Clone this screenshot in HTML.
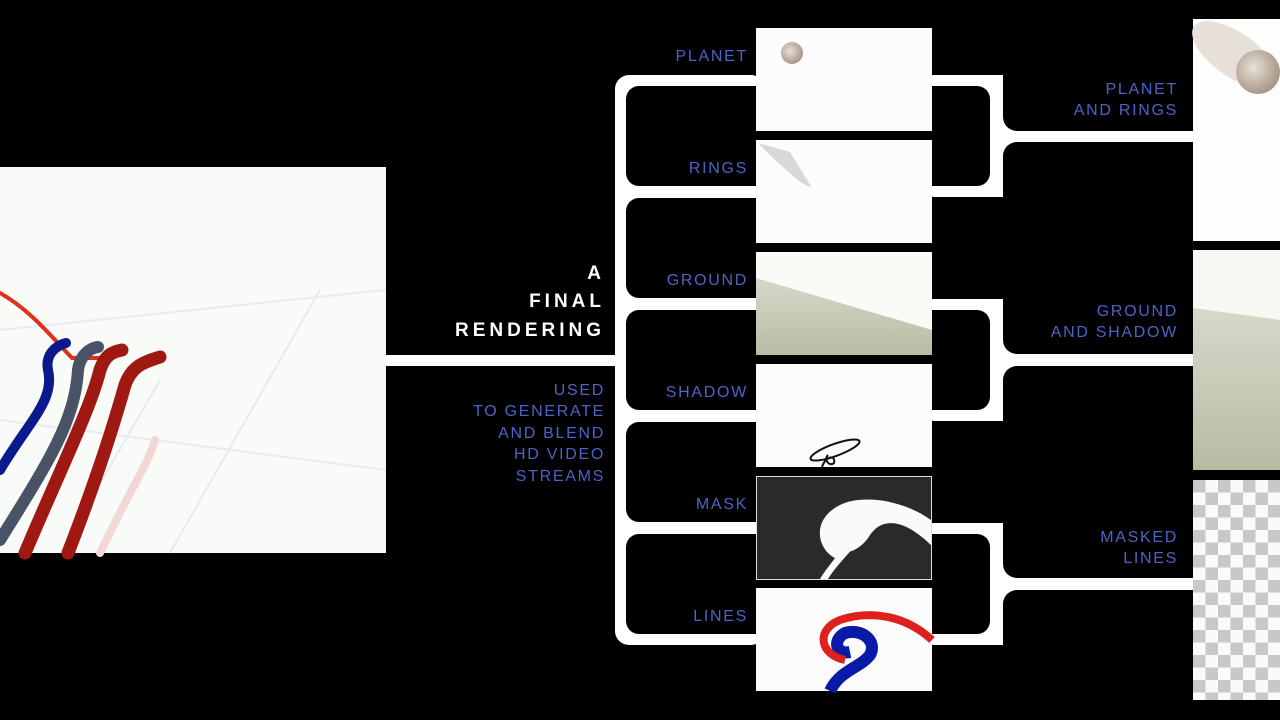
<!DOCTYPE html>
<html><head><meta charset="utf-8"><style>
html,body{margin:0;padding:0;background:#000;width:1280px;height:720px;overflow:hidden}
svg{display:block}
.lb{font-family:"Liberation Sans",sans-serif;font-size:16px;letter-spacing:1.7px;fill:#4d63c8;text-anchor:end}
.tt{font-family:"Liberation Sans",sans-serif;font-size:19px;font-weight:bold;letter-spacing:4px;fill:#fff;text-anchor:end}
</style></head><body>
<svg width="1280" height="720" viewBox="0 0 1280 720">
<defs>
<pattern id="chk" width="25" height="25" patternUnits="userSpaceOnUse" x="1193" y="480">
<rect width="25" height="25" fill="#fafafa"/><rect width="12.5" height="12.5" fill="#c8c8c8"/><rect x="12.5" y="12.5" width="12.5" height="12.5" fill="#c8c8c8"/>
</pattern>
<linearGradient id="gr" x1="0" y1="0" x2="0" y2="1"><stop offset="0" stop-color="#d6d9c8"/><stop offset="1" stop-color="#b7bca6"/></linearGradient>
<radialGradient id="pl" cx="0.4" cy="0.4" r="0.6"><stop offset="0" stop-color="#e8e0d8"/><stop offset="1" stop-color="#a89888"/></radialGradient>
</defs>
<rect width="1280" height="720" fill="#000"/>

<!-- left connector -->
<rect x="380" y="355" width="250" height="11" fill="#fff"/>
<rect x="615" y="75" width="150" height="570" rx="14" fill="#fff"/>
<rect x="380" y="100" width="235" height="254" rx="12" fill="#000"/>
<rect x="380" y="367" width="235" height="300" rx="12" fill="#000"/>
<rect x="626" y="86" width="160" height="100" rx="13" fill="#000"/>
<rect x="626" y="198" width="160" height="100" rx="13" fill="#000"/>
<rect x="626" y="310" width="160" height="100" rx="13" fill="#000"/>
<rect x="626" y="422" width="160" height="100" rx="13" fill="#000"/>
<rect x="626" y="534" width="160" height="100" rx="13" fill="#000"/>

<!-- right brackets -->
<g>
<rect x="920" y="75" width="280" height="122" rx="14" fill="#fff"/>
<rect x="920" y="299" width="280" height="122" rx="14" fill="#fff"/>
<rect x="920" y="523" width="280" height="122" rx="14" fill="#fff"/>
<rect x="900" y="86" width="90" height="100" rx="13" fill="#000"/>
<rect x="900" y="310" width="90" height="100" rx="13" fill="#000"/>
<rect x="900" y="534" width="90" height="100" rx="13" fill="#000"/>
<rect x="1003" y="0" width="220" height="131" rx="14" fill="#000"/>
<rect x="1003" y="142" width="220" height="212" rx="14" fill="#000"/>
<rect x="1003" y="366" width="220" height="212" rx="14" fill="#000"/>
<rect x="1003" y="590" width="220" height="130" rx="14" fill="#000"/>
</g>

<!-- left image -->
<rect x="0" y="167" width="386" height="386" fill="#f8fbf8"/>
<g stroke="#e4e8f0" stroke-width="2" fill="none" opacity="0.8">
<path d="M0 330 L386 290"/><path d="M0 420 L386 470"/><path d="M170 553 L320 290"/><path d="M60 553 L160 380"/>
</g>
<g fill="none" stroke-linecap="round">
<path d="M0 293 C30 310 50 335 72 358 L100 358" stroke="#e0301c" stroke-width="4"/>
<path d="M0 470 C30 420 55 400 48 370 C45 355 55 346 66 343" stroke="#0a1a8c" stroke-width="10"/>
<path d="M0 540 C50 460 75 420 78 370 C80 355 90 348 98 347" stroke="#4a5266" stroke-width="12"/>
<path d="M25 553 C60 470 90 410 100 370 C105 355 112 352 122 350" stroke="#a01812" stroke-width="13"/>
<path d="M68 553 C100 470 115 420 125 385 C132 365 145 362 160 357" stroke="#a01812" stroke-width="13"/>
<path d="M100 553 C130 490 150 460 155 440" stroke="#f2d8d4" stroke-width="8"/>
</g>

<!-- middle images -->
<rect x="756" y="28" width="176" height="103" fill="#fcfcfc"/>
<circle cx="792" cy="53" r="11" fill="url(#pl)"/>
<rect x="756" y="140" width="176" height="103" fill="#fcfcfc"/>
<path d="M758 143 L790 152 L812 188 L800 182 L775 160 Z" fill="#d8d8d8"/>
<rect x="756" y="252" width="176" height="103" fill="#fafbf6"/>
<path d="M756 278 L932 330 L932 355 L756 355 Z" fill="url(#gr)"/>
<rect x="756" y="364" width="176" height="103" fill="#fcfcfc"/>
<g fill="none" stroke="#111" stroke-width="2"><ellipse cx="835" cy="450" rx="26" ry="6" transform="rotate(-20 835 450)"/><path d="M822 467 C826 455 836 455 834 463 C830 467 823 460 828 455"/></g>
<rect x="756.5" y="476.5" width="175" height="103" fill="#2a2a2a" stroke="#ddd" stroke-width="1"/>
<path d="M828 579 C840 560 855 550 860 535 C862 525 845 520 838 530 C833 540 845 548 852 540 L845 528 C830 520 822 535 830 548 C840 558 860 552 870 535 C880 520 900 515 931 545 L931 520 C900 498 860 495 840 505 C810 520 818 550 835 558 C830 565 824 572 820 579 Z" fill="#fafafa"/>
<rect x="756" y="588" width="176" height="103" fill="#fcfcfc"/>
<path d="M830 691 C840 670 860 668 870 655 C878 640 860 628 845 633 C832 640 836 655 850 652" fill="none" stroke="#0a1aa8" stroke-width="12"/>
<path d="M845 660 C820 655 815 630 840 620 C870 610 905 615 932 640" fill="none" stroke="#e0201c" stroke-width="8"/>

<!-- right images -->
<rect x="1193" y="19" width="87" height="222" fill="#fdfdfc"/>
<ellipse cx="1235" cy="55" rx="50" ry="22" transform="rotate(35 1235 55)" fill="#e6e0d8"/>
<circle cx="1258" cy="72" r="22" fill="url(#pl)"/>
<rect x="1193" y="250" width="87" height="220" fill="#f6f8f2"/>
<path d="M1193 308 L1280 320 L1280 470 L1193 470 Z" fill="url(#gr)"/>
<rect x="1193" y="480" width="87" height="220" fill="url(#chk)"/>

<!-- text -->
<text class="tt" x="605" y="279">A</text>
<text class="tt" x="605" y="307">FINAL</text>
<text class="tt" x="605" y="336">RENDERING</text>
<text class="lb" x="605" y="395">USED</text>
<text class="lb" x="605" y="416">TO GENERATE</text>
<text class="lb" x="605" y="438">AND BLEND</text>
<text class="lb" x="605" y="459">HD VIDEO</text>
<text class="lb" x="605" y="481">STREAMS</text>
<text class="lb" x="748" y="61">PLANET</text>
<text class="lb" x="748" y="173">RINGS</text>
<text class="lb" x="748" y="285">GROUND</text>
<text class="lb" x="748" y="397">SHADOW</text>
<text class="lb" x="748" y="509">MASK</text>
<text class="lb" x="748" y="621">LINES</text>
<text class="lb" x="1178" y="94">PLANET</text>
<text class="lb" x="1178" y="115">AND RINGS</text>
<text class="lb" x="1178" y="316">GROUND</text>
<text class="lb" x="1178" y="337">AND SHADOW</text>
<text class="lb" x="1178" y="542">MASKED</text>
<text class="lb" x="1178" y="563">LINES</text>
</svg>
</body></html>
